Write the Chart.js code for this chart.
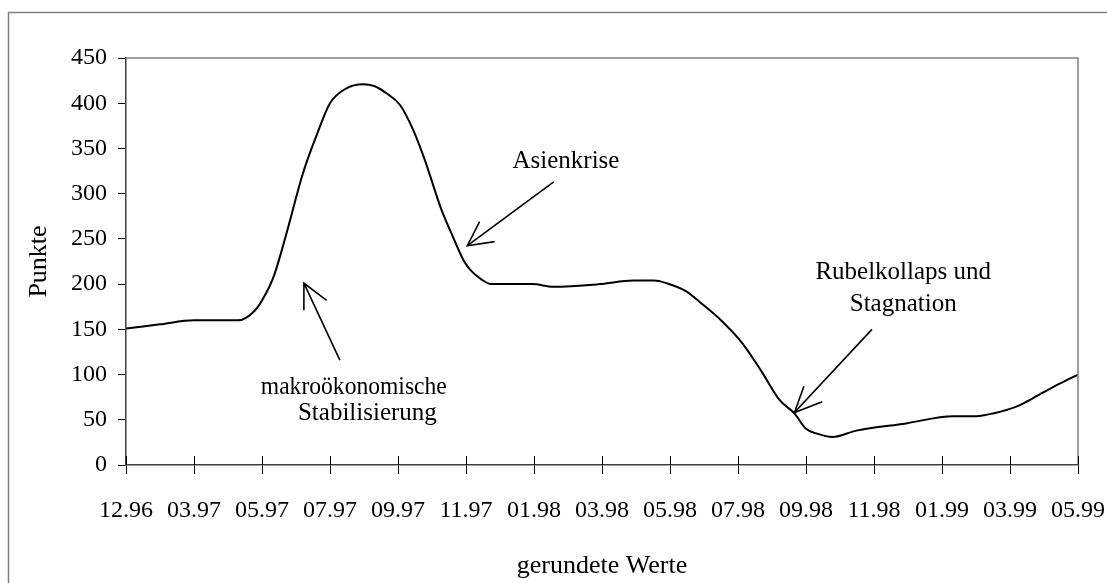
<!DOCTYPE html>
<html>
<head>
<meta charset="utf-8">
<script src="https://cdn.jsdelivr.net/npm/chart.js@4/dist/chart.umd.min.js"></script>
<style>
  html, body { margin: 0; padding: 0; background: #fff; }
  #box { position: relative; width: 1107px; height: 583px; }
</style>
</head>
<body>
<div id="box"><canvas id="graphique"></canvas></div>
<script>
// Achsenbeschriftung (Monat.Jahr), ein Label pro Teilstrich
var achsenLabels = ['12.96', '03.97', '05.97', '07.97', '09.97', '11.97', '01.98', '03.98',
                    '05.98', '07.98', '09.98', '11.98', '01.99', '03.99', '05.99'];

// Lage der Messpunkte entlang der Achse (in Teilstrichen) und Indexwerte
var zeitpunkte = [0, 0.5, 1, 1.65, 1.87, 2, 2.17, 2.36, 2.6, 2.8, 3, 3.23, 3.49, 3.65, 3.83, 4.03,
                  4.22, 4.4, 4.64, 4.81, 4.96, 5.06, 5.23, 5.37, 5.98, 6.28, 6.97, 7.46, 7.77, 7.95,
                  8.24, 8.44, 8.75, 9.07, 9.35, 9.61, 9.83, 10, 10.15, 10.39, 10.74, 11.47, 12.16,
                  12.5, 12.75, 13.14, 13.34, 13.73, 14];
var punkte = [151, 155.5, 160, 160, 169, 182, 208, 256, 322, 364, 400, 416, 421, 419, 411, 398,
              371, 336, 282, 252, 227, 216, 205, 200, 200, 197, 200, 204, 204, 201,
              192, 180, 160, 134, 103, 72, 57, 40, 35, 31, 38, 46, 54,
              54, 57, 66, 74, 90, 100];

var yTicks = [0, 50, 100, 150, 200, 250, 300, 350, 400, 450];

// Textkommentare im Diagramm (Position in Achsenwerten)
var kommentare = [
  { text: 'makroökonomische', x: 3.35, y: 78.5, breite: 186 },
  { text: 'Stabilisierung', x: 3.55, y: 50 },
  { text: 'Asienkrise', x: 6.47, y: 328 },
  { text: 'Rubelkollaps und', x: 11.43, y: 206 },
  { text: 'Stagnation', x: 11.43, y: 170 }
];
// Pfeile: von (x1,y1) nach (x2,y2), Spitzenenden a und b
var pfeile = [
  { x1: 3.145, y1: 116, x2: 2.616, y2: 201, a: [2.616, 171], b: [2.95, 182] },
  { x1: 6.29, y1: 313, x2: 5.02, y2: 242.5, a: [5.20, 269], b: [5.42, 247] },
  { x1: 10.97, y1: 150, x2: 9.83, y2: 58, a: [9.97, 87], b: [10.24, 70] }
];

var familie = "'Liberation Serif', 'Times New Roman', serif";
var schrift = { family: familie, size: 24 };
var titelSchrift = { family: familie, size: 26 };

var rahmenPlugin = {
  id: 'rahmen',
  afterDraw: function(chart) {
    var ctx = chart.ctx;
    var a = chart.chartArea;
    var sx = chart.scales.x, sy = chart.scales.y;
    ctx.save();
    // äußerer Rahmen
    ctx.strokeStyle = '#808080';
    ctx.lineWidth = 1.5;
    ctx.strokeRect(8.5, 12.5, 1120, 600);
    // Zeichenfläche oben und rechts
    ctx.beginPath();
    ctx.moveTo(a.left, a.top);
    ctx.lineTo(a.right, a.top);
    ctx.lineTo(a.right, a.bottom);
    ctx.stroke();
    // Teilstriche der x-Achse nach innen
    ctx.strokeStyle = '#000';
    ctx.lineWidth = 1;
    for (var i = 0; i < achsenLabels.length; i++) {
      var px = Math.round(sx.getPixelForValue(i)) + 0.5;
      ctx.beginPath();
      ctx.moveTo(px, a.bottom);
      ctx.lineTo(px, a.bottom - 9);
      ctx.stroke();
    }
    // Pfeile
    ctx.lineWidth = 1.6;
    pfeile.forEach(function(p) {
      var hx = sx.getPixelForValue(p.x2), hy = sy.getPixelForValue(p.y2);
      ctx.beginPath();
      ctx.moveTo(sx.getPixelForValue(p.x1), sy.getPixelForValue(p.y1));
      ctx.lineTo(hx, hy);
      ctx.moveTo(sx.getPixelForValue(p.a[0]), sy.getPixelForValue(p.a[1]));
      ctx.lineTo(hx, hy);
      ctx.lineTo(sx.getPixelForValue(p.b[0]), sy.getPixelForValue(p.b[1]));
      ctx.stroke();
    });
    // Texte
    ctx.fillStyle = '#000';
    ctx.font = '25px ' + familie;
    ctx.textAlign = 'center';
    ctx.textBaseline = 'alphabetic';
    kommentare.forEach(function(k) {
      var kx = sx.getPixelForValue(k.x), ky = sy.getPixelForValue(k.y);
      if (k.breite) ctx.fillText(k.text, kx, ky, k.breite);
      else ctx.fillText(k.text, kx, ky);
    });
    ctx.restore();
  }
};

document.addEventListener('DOMContentLoaded', function() {
  var ctx = document.getElementById('graphique').getContext('2d');
  var daten = zeitpunkte.map(function(t, i) { return { x: t, y: punkte[i] }; });
  var chart = new Chart(ctx, {
    type: 'line',
    data: {
      datasets: [{
        label: 'Punkte',
        data: daten,
        borderColor: '#000',
        borderWidth: 2,
        pointRadius: 0,
        fill: false,
        cubicInterpolationMode: 'monotone'
      }]
    },
    options: {
      responsive: true,
      maintainAspectRatio: false,
      animation: false,
      layout: { padding: { left: 10, top: 58, right: 29, bottom: 0 } },
      plugins: { legend: { display: false }, tooltip: { enabled: false } },
      scales: {
        x: {
          type: 'linear',
          min: 0,
          max: achsenLabels.length - 1,
          afterFit: function(scale) {
            scale.height = 118;
            scale.paddingLeft = 0;
            scale.paddingRight = 0;
          },
          afterBuildTicks: function(scale) {
            scale.ticks = achsenLabels.map(function(l, i) { return { value: i }; });
          },
          ticks: {
            autoSkip: false,
            maxRotation: 0,
            padding: 22,
            color: '#000',
            font: schrift,
            callback: function(value) { return achsenLabels[value]; }
          },
          grid: { drawOnChartArea: false, drawTicks: true, tickLength: 9, color: '#000', lineWidth: 1 },
          border: { display: true, color: '#404040', width: 1.5 },
          title: { display: true, text: 'gerundete Werte', color: '#000', font: titelSchrift, padding: { top: 0, bottom: 1 } }
        },
        y: {
          min: 0,
          max: 450,
          afterFit: function(scale) {
            scale.width = 116;
            scale.paddingTop = 0;
            scale.paddingBottom = 0;
          },
          afterBuildTicks: function(scale) {
            scale.ticks = yTicks.map(function(v) { return { value: v }; });
          },
          ticks: { padding: 11, color: '#000', font: schrift },
          grid: { drawOnChartArea: false, drawTicks: true, tickLength: 8, color: '#000', lineWidth: 1 },
          border: { display: true, color: '#404040', width: 1.5 },
          title: { display: true, text: 'Punkte', color: '#000', font: titelSchrift, padding: { top: 14, bottom: 0 } }
        }
      }
    },
    plugins: [rahmenPlugin]
  });
});
</script>
</body>
</html>
